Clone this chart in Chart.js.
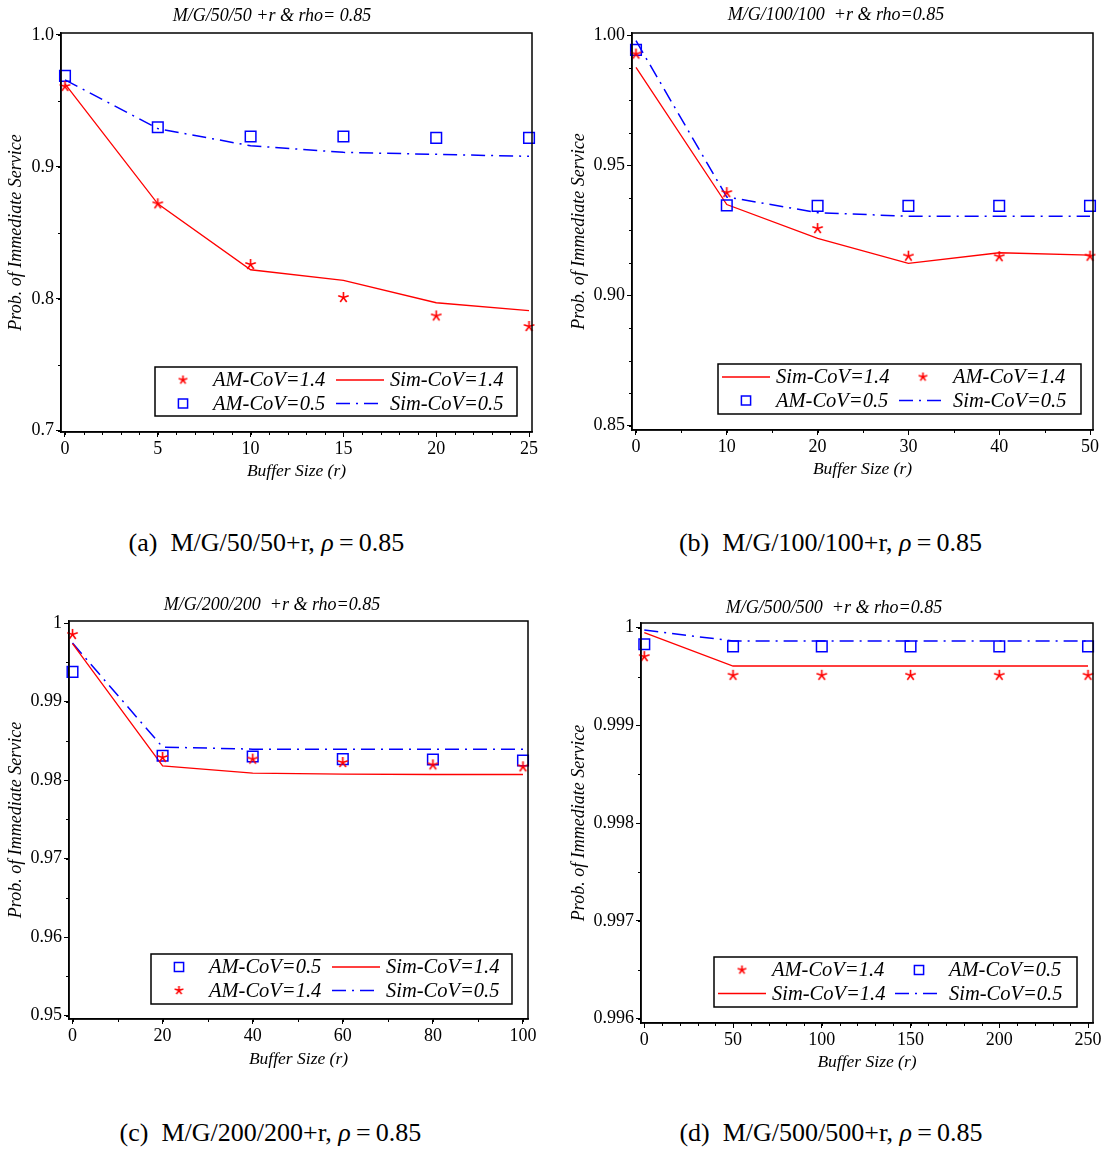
<!DOCTYPE html>
<html>
<head>
<meta charset="utf-8">
<script src="https://cdn.jsdelivr.net/npm/chart.js@4.4.0/dist/chart.umd.min.js"></script>
<style>
  body { margin: 0; background: #fff; width: 1102px; height: 1149px; position: relative; overflow: hidden; }
  .panel { position: absolute; }
  .cap { position: absolute; font-family: 'Liberation Serif', 'Times New Roman', serif; font-size: 26px; line-height: 30px; text-align: center; white-space: nowrap; color: #000; }
</style>
</head>
<body>
<div class="panel" style="left:0px;top:0px"><canvas id="chartA" width="551" height="490"></canvas></div>
<div class="panel" style="left:551px;top:0px"><canvas id="chartB" width="551" height="490"></canvas></div>
<div class="panel" style="left:0px;top:590px"><canvas id="chartC" width="551" height="490"></canvas></div>
<div class="panel" style="left:551px;top:590px"><canvas id="chartD" width="551" height="490"></canvas></div>

<div class="cap" style="left:0px;top:528px;width:533px">(a)&nbsp; M/G/50/50+r, <i>ρ</i>&#8201;=&#8201;0.85</div>
<div class="cap" style="left:551px;top:528px;width:559px">(b)&nbsp; M/G/100/100+r, <i>ρ</i>&#8201;=&#8201;0.85</div>
<div class="cap" style="left:0px;top:1118px;width:541px">(c)&nbsp; M/G/200/200+r, <i>ρ</i>&#8201;=&#8201;0.85</div>
<div class="cap" style="left:551px;top:1118px;width:560px">(d)&nbsp; M/G/500/500+r, <i>ρ</i>&#8201;=&#8201;0.85</div>

<script>
// (a) M/G/50/50 +r
const bufferA = [0, 5, 10, 15, 20, 25];
const amCov14A = [0.961, 0.872, 0.826, 0.801, 0.787, 0.779];
const amCov05A = [0.969, 0.930, 0.923, 0.923, 0.922, 0.922];
const simCov14A = [0.963, 0.872, 0.822, 0.814, 0.797, 0.791];
const simCov05A = [0.966, 0.929, 0.916, 0.911, 0.9095, 0.908];
const xTicksA = ['0', '5', '10', '15', '20', '25'];
const yTicksA = ['1.0', '0.9', '0.8', '0.7'];

// (b) M/G/100/100 +r
const bufferB = [0, 10, 20, 30, 40, 50];
const amCov14B = [0.9927, 0.9395, 0.9257, 0.9151, 0.9149, 0.9151];
const amCov05B = [0.9943, 0.9346, 0.9344, 0.9344, 0.9344, 0.9344];
const simCov14B = [0.9876, 0.9349, 0.9219, 0.9123, 0.9164, 0.9155];
const simCov05B = [0.9978, 0.9378, 0.9318, 0.9304, 0.9304, 0.9304];
const xTicksB = ['0', '10', '20', '30', '40', '50'];
const yTicksB = ['1.00', '0.95', '0.90', '0.85'];

// (c) M/G/200/200 +r
const bufferC = [0, 20, 40, 60, 80, 100];
const amCov14C = [0.99855, 0.98288, 0.98267, 0.98224, 0.98194, 0.98169];
const amCov05C = [0.99378, 0.98309, 0.98301, 0.98267, 0.98262, 0.98250];
const simCov14C = [0.99736, 0.98181, 0.98088, 0.98075, 0.98071, 0.98071];
const simCov05C = [0.99744, 0.98420, 0.98394, 0.98394, 0.98394, 0.98394];
const xTicksC = ['0', '20', '40', '60', '80', '100'];
const yTicksC = ['1', '0.99', '0.98', '0.97', '0.96', '0.95'];

// (d) M/G/500/500 +r
const bufferD = [0, 50, 100, 150, 200, 250];
const amCov14D = [0.999704, 0.999513, 0.999513, 0.999513, 0.999513, 0.999513];
const amCov05D = [0.999830, 0.999809, 0.999809, 0.999809, 0.999809, 0.999809];
const simCov14D = [0.999949, 0.999608, 0.999608, 0.999608, 0.999608, 0.999608];
const simCov05D = [0.999976, 0.999864, 0.999864, 0.999864, 0.999864, 0.999864];
const xTicksD = ['0', '50', '100', '150', '200', '250'];
const yTicksD = ['1', '0.999', '0.998', '0.997', '0.996'];

const FONT = "'Liberation Serif', 'Times New Roman', serif";
const RED = '#ff0000';
const BLUE = '#0000ff';
const DASH_DOT = [14, 6, 2, 6];

// asterisk marker like the maple one (5 arms)
function makeStar(size, color) {
    const c = document.createElement('canvas');
    c.width = size; c.height = size;
    const g = c.getContext('2d');
    const r = size / 2 - 1;
    g.strokeStyle = color;
    g.lineWidth = 1.6;
    g.beginPath();
    for (let k = 0; k < 5; k++) {
        const ang = -Math.PI / 2 + k * 2 * Math.PI / 5;
        g.moveTo(size / 2, size / 2);
        g.lineTo(size / 2 + r * Math.cos(ang), size / 2 + r * Math.sin(ang));
    }
    g.stroke();
    return c;
}
const starBig = makeStar(13, RED);
const starSmall = makeStar(11, RED);

function toPoints(xs, ys) {
    return xs.map((x, i) => ({ x: x, y: ys[i] }));
}

// top/right frame + minor ticks + panel title
const framePlugin = {
    id: 'frame',
    afterDraw(chart, args, opts) {
        const { ctx, chartArea: a, scales } = chart;
        ctx.save();
        ctx.strokeStyle = '#000';
        ctx.lineWidth = 1.5;
        ctx.strokeRect(a.left, a.top, a.right - a.left, a.bottom - a.top);

        ctx.lineWidth = 1;
        ctx.beginPath();
        const x = scales.x, y = scales.y;
        const x0 = Math.ceil(x.min / opts.minorX);
        for (let i = x0; i * opts.minorX <= x.max; i++) {
            const px = Math.round(x.getPixelForValue(i * opts.minorX)) + 0.5;
            ctx.moveTo(px, a.bottom);
            ctx.lineTo(px, a.bottom + 3);
        }
        const y0 = Math.ceil(y.min / opts.minorY - 1e-6);
        for (let i = y0; i * opts.minorY <= y.max + 1e-12; i++) {
            const py = Math.round(y.getPixelForValue(i * opts.minorY)) + 0.5;
            ctx.moveTo(a.left, py);
            ctx.lineTo(a.left - 3, py);
        }
        ctx.stroke();

        // chart title
        ctx.fillStyle = '#000';
        ctx.font = 'italic 18px ' + FONT;
        ctx.textAlign = 'center';
        ctx.textBaseline = 'middle';
        ctx.fillText(opts.title, opts.titleX, opts.titleY);
        ctx.restore();
    }
};

// boxed legend inside the plot, 2 x 2
const boxLegend = {
    id: 'boxLegend',
    afterDatasetsDraw(chart, args, opts) {
        const { ctx, chartArea: a } = chart;
        const bx = a.right - opts.right - opts.width;
        const by = a.bottom - opts.bottom - opts.height;
        ctx.save();
        ctx.fillStyle = '#fff';
        ctx.fillRect(bx, by, opts.width, opts.height);
        ctx.strokeStyle = '#000';
        ctx.lineWidth = 1.5;
        ctx.strokeRect(bx, by, opts.width, opts.height);

        opts.rows.forEach((row, r) => {
            const cy = by + 13 + r * 23.5;
            row.forEach((idx, c) => {
                const ds = chart.data.datasets[idx];
                const cx = bx + 3 + c * 177;
                if (ds.showLine === false) {
                    if (ds.pointStyle === 'rect') {
                        ctx.strokeStyle = ds.pointBorderColor;
                        ctx.fillStyle = 'rgba(0,0,0,0)';
                        ctx.lineWidth = ds.pointBorderWidth;
                        Chart.helpers.drawPoint(ctx, { pointStyle: 'rect', radius: 6.5, borderWidth: ds.pointBorderWidth, rotation: 0 }, cx + 25, cy);
                    } else {
                        ctx.drawImage(starSmall, cx + 25 - starSmall.width / 2, cy - starSmall.height / 2);
                    }
                } else {
                    ctx.strokeStyle = ds.borderColor;
                    ctx.lineWidth = ds.borderWidth;
                    ctx.setLineDash(ds.borderDash || []);
                    ctx.beginPath();
                    ctx.moveTo(cx + 1, cy);
                    ctx.lineTo(cx + 49, cy);
                    ctx.stroke();
                    ctx.setLineDash([]);
                }
                ctx.fillStyle = '#000';
                ctx.font = 'italic 20.5px ' + FONT;
                ctx.textAlign = 'left';
                ctx.textBaseline = 'middle';
                ctx.fillText(ds.label, cx + 55, cy + 1);
            });
        });
        ctx.restore();
    }
};

function drawPanel(canvasId, cfg) {
    const canvas = document.getElementById(canvasId);
    const W = canvas.width, H = canvas.height;
    const a = cfg.area;
    const xVals = cfg.xTicks.map(parseFloat);
    const yVals = cfg.yTicks.map(parseFloat);

    const datasets = [
        {
            label: 'AM-CoV=1.4', data: toPoints(cfg.x, cfg.am14), showLine: false,
            pointStyle: starBig, pointRadius: 6, clip: false
        },
        {
            label: 'AM-CoV=0.5', data: toPoints(cfg.x, cfg.am05), showLine: false,
            pointStyle: 'rect', pointRadius: 7.5, pointBorderWidth: 1.5,
            pointBorderColor: BLUE, pointBackgroundColor: 'rgba(0,0,0,0)', clip: false
        },
        {
            label: 'Sim-CoV=1.4', data: toPoints(cfg.x, cfg.sim14),
            borderColor: RED, borderWidth: 1.3, pointRadius: 0, tension: 0, clip: false
        },
        {
            label: 'Sim-CoV=0.5', data: toPoints(cfg.x, cfg.sim05),
            borderColor: BLUE, borderWidth: 1.5, borderDash: DASH_DOT, pointRadius: 0, tension: 0, clip: false
        }
    ];

    new Chart(canvas, {
        type: 'line',
        data: { datasets: datasets },
        options: {
            responsive: false,
            animation: false,
            layout: { padding: { left: 0, top: a.top, right: W - a.right, bottom: 0 } },
            plugins: {
                legend: { display: false },
                tooltip: { enabled: false },
                frame: { minorX: cfg.minorX, minorY: cfg.minorY, title: cfg.title, titleX: cfg.titleX, titleY: cfg.titleY },
                boxLegend: cfg.legend
            },
            scales: {
                x: {
                    type: 'linear',
                    min: cfg.xMin, max: cfg.xMax,
                    afterBuildTicks: s => { s.ticks = xVals.map(v => ({ value: v })); },
                    afterFit: s => { s.height = H - a.bottom; s.paddingLeft = 0; s.paddingRight = 0; },
                    grid: { drawOnChartArea: false, tickLength: 5, color: '#000', tickWidth: 1 },
                    border: { color: '#000', width: 1.5 },
                    ticks: {
                        color: '#000', font: { family: FONT, size: 18 }, padding: 1,
                        maxRotation: 0, autoSkip: false,
                        callback: (v, i) => cfg.xTicks[i]
                    },
                    title: {
                        display: true, text: 'Buffer Size (r)', color: '#000',
                        font: { family: FONT, size: 17.5, style: 'italic', lineHeight: 1.2 },
                        padding: { top: 0, bottom: H - cfg.xTitleY - 10.5 }
                    }
                },
                y: {
                    type: 'linear',
                    min: cfg.yMin, max: cfg.yMax,
                    afterBuildTicks: s => { s.ticks = yVals.slice().sort((p, q) => p - q).map(v => ({ value: v })); },
                    afterFit: s => { s.width = a.left; s.paddingTop = 0; s.paddingBottom = 0; },
                    grid: { drawOnChartArea: false, tickLength: 5, color: '#000', tickWidth: 1 },
                    border: { color: '#000', width: 1.5 },
                    ticks: {
                        color: '#000', font: { family: FONT, size: 18 }, padding: 2,
                        callback: v => cfg.yTicks[yVals.findIndex(t => Math.abs(t - v) < 1e-9)]
                    },
                    title: {
                        display: true, text: 'Prob. of Immediate Service', color: '#000',
                        font: { family: FONT, size: 18, style: 'italic', lineHeight: 1.2 },
                        padding: { top: cfg.yTitleX - 10.8, bottom: 0 }
                    }
                }
            }
        },
        plugins: [framePlugin, boxLegend]
    });
}

drawPanel('chartA', {
    x: bufferA, am14: amCov14A, am05: amCov05A, sim14: simCov14A, sim05: simCov05A,
    xTicks: xTicksA, yTicks: yTicksA,
    xMin: -0.2155, xMax: 25.16, yMin: 0.699, yMax: 1.0015,
    minorX: 1, minorY: 0.05,
    area: { left: 61, top: 33, right: 532, bottom: 432 },
    title: 'M/G/50/50 +r & rho= 0.85', titleX: 272, titleY: 16,
    yTitleX: 16, xTitleY: 471,
    legend: { right: 15, bottom: 16, width: 362, height: 49, rows: [[0, 2], [1, 3]] }
});

drawPanel('chartB', {
    x: bufferB, am14: amCov14B, am05: amCov05B, sim14: simCov14B, sim05: simCov05B,
    xTicks: xTicksB, yTicks: yTicksB,
    xMin: -0.44, xMax: 50.33, yMin: 0.84835, yMax: 1.00077,
    minorX: 5, minorY: 0.0125,
    area: { left: 81, top: 33, right: 543, bottom: 430 },
    title: 'M/G/100/100  +r & rho=0.85', titleX: 285, titleY: 15,
    yTitleX: 28.6, xTitleY: 469,
    legend: { right: 12, bottom: 16, width: 363, height: 50, rows: [[2, 0], [1, 3]] }
});

drawPanel('chartC', {
    x: bufferC, am14: amCov14C, am05: amCov05C, sim14: simCov14C, sim05: simCov05C,
    xTicks: xTicksC, yTicks: yTicksC,
    xMin: -0.777, xMax: 101.11, yMin: 0.94958, yMax: 1.000255,
    minorX: 10, minorY: 0.005,
    area: { left: 69, top: 31, right: 528, bottom: 429 },
    title: 'M/G/200/200  +r & rho=0.85', titleX: 272, titleY: 15,
    yTitleX: 15.8, xTitleY: 469,
    legend: { right: 16, bottom: 15, width: 361, height: 50, rows: [[1, 2], [0, 3]] }
});

drawPanel('chartD', {
    x: bufferD, am14: amCov14D, am05: amCov05D, sim14: simCov14D, sim05: simCov05D,
    xTicks: xTicksD, yTicks: yTicksD,
    xMin: -1.855, xMax: 252.8, yMin: 0.995955, yMax: 1.000048,
    minorX: 10, minorY: 0.0005,
    area: { left: 90, top: 33, right: 543, bottom: 433 },
    title: 'M/G/500/500  +r & rho=0.85', titleX: 283, titleY: 18,
    yTitleX: 28.6, xTitleY: 472.5,
    legend: { right: 16, bottom: 16, width: 363, height: 50, rows: [[0, 1], [2, 3]] }
});
</script>
</body>
</html>
